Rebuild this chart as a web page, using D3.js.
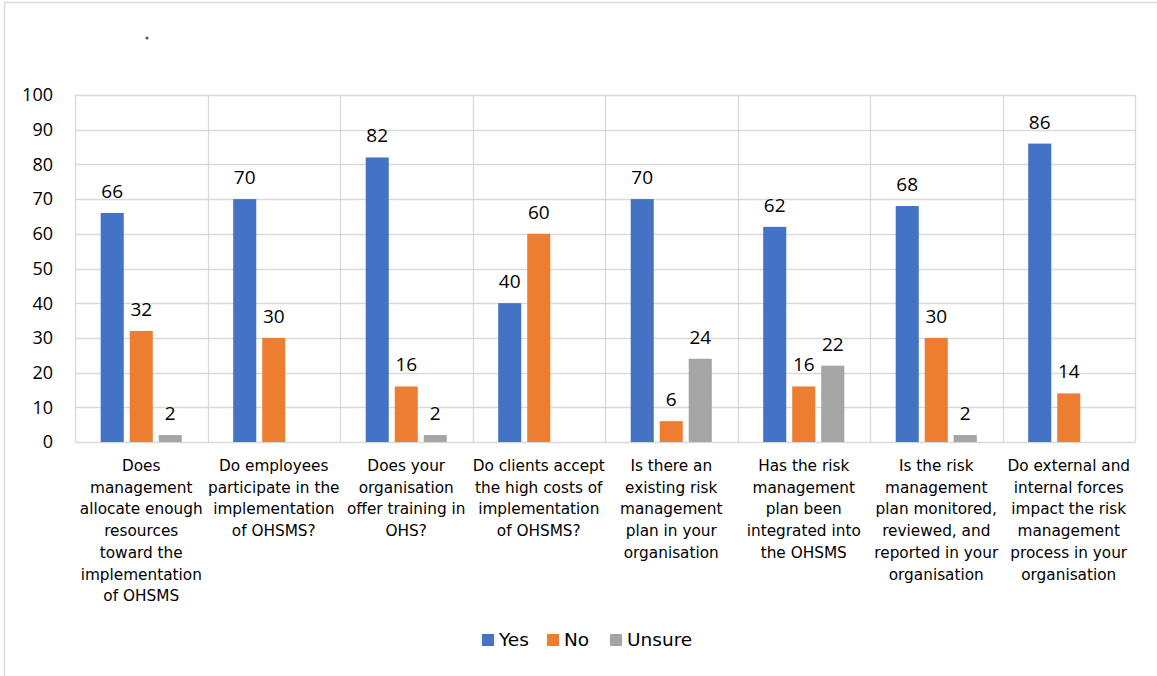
<!DOCTYPE html>
<html>
<head>
<meta charset="utf-8">
<script src="https://cdn.jsdelivr.net/npm/d3@7"></script>
<style>
  html, body { margin: 0; padding: 0; background: #fff; }
  svg { display: block; }
</style>
</head>
<body>
<svg id="chart" width="1157" height="676"></svg>
<script>
// Survey responses (%) per question
const categories = [
  ["Does", "management", "allocate enough", "resources", "toward the", "implementation", "of OHSMS"],
  ["Do employees", "participate in the", "implementation", "of OHSMS?"],
  ["Does your", "organisation", "offer training in", "OHS?"],
  ["Do clients accept", "the high costs of", "implementation", "of OHSMS?"],
  ["Is there an", "existing risk", "management", "plan in your", "organisation"],
  ["Has the risk", "management", "plan been", "integrated into", "the OHSMS"],
  ["Is the risk", "management", "plan monitored,", "reviewed, and", "reported in your", "organisation"],
  ["Do external and", "internal forces", "impact the risk", "management", "process in your", "organisation"]
];
const seriesNames = ["Yes", "No", "Unsure"];
const yesValues    = [66, 70, 82, 40, 70, 62, 68, 86];
const noValues     = [32, 30, 16, 60, 6, 16, 30, 14];
const unsureValues = [2, null, 2, null, 24, 22, 2, null];
const yTicks = [0, 10, 20, 30, 40, 50, 60, 70, 80, 90, 100];

const colors = ["#4472C4", "#ED7D31", "#A5A5A5"];
const seriesValues = [yesValues, noValues, unsureValues];

const svg = d3.select("#chart");
const labelFont = "DejaVu Sans, Verdana, sans-serif";
const numFont = "Open Sans, Calibri, sans-serif";

// Outer chart frame
svg.append("rect")
  .attr("x", 4.5).attr("y", 2.5)
  .attr("width", 1170).attr("height", 700)
  .attr("fill", "#fff").attr("stroke", "#d9d9d9").attr("stroke-width", 1.5);

// Title placeholder (a single dot)
svg.append("circle").attr("cx", 147).attr("cy", 38).attr("r", 1.6).attr("fill", "#595959");

const plot = { left: 75, right: 1135, top: 95, bottom: 442 };

const x = d3.scaleBand()
  .domain(d3.range(categories.length))
  .range([plot.left, plot.right])
  .paddingInner(0).paddingOuter(0);

const y = d3.scaleLinear().domain([0, 100]).range([plot.bottom, plot.top]);

const barW = x.bandwidth() * 0.174;
const gap = x.bandwidth() * 0.045;
const groupW = barW * 3 + gap * 2;

// Horizontal gridlines
svg.append("g").selectAll("line").data(yTicks).join("line")
  .attr("x1", plot.left).attr("x2", plot.right)
  .attr("y1", d => Math.round(y(d)) + 0.5).attr("y2", d => Math.round(y(d)) + 0.5)
  .attr("stroke", "#d9d9d9").attr("stroke-width", 1.3);

// Vertical category separators
svg.append("g").selectAll("line").data(d3.range(categories.length + 1)).join("line")
  .attr("x1", i => Math.round(plot.left + i * x.bandwidth()) + 0.5)
  .attr("x2", i => Math.round(plot.left + i * x.bandwidth()) + 0.5)
  .attr("y1", plot.top).attr("y2", plot.bottom)
  .attr("stroke", "#d9d9d9").attr("stroke-width", 1.3);

// Y-axis tick labels
svg.append("g").selectAll("text").data(yTicks).join("text")
  .attr("x", 53).attr("y", d => y(d))
  .attr("dy", "0.35em")
  .attr("text-anchor", "end")
  .attr("font-family", numFont).attr("font-size", 18).attr("fill", "#000")
  .text(d => d);

// Bars and data labels
seriesValues.forEach((vals, s) => {
  const g = svg.append("g");
  const data = vals.map((v, i) => ({ v, i })).filter(d => d.v != null);
  const bx = d => x(d.i) + (x.bandwidth() - groupW) / 2 + s * (barW + gap);
  g.selectAll("rect").data(data).join("rect")
    .attr("x", bx)
    .attr("y", d => y(d.v))
    .attr("width", barW)
    .attr("height", d => y(0) - y(d.v))
    .attr("fill", colors[s]);
  g.selectAll("text").data(data).join("text")
    .attr("x", d => bx(d) + barW / 2)
    .attr("y", d => y(d.v) - 15)
    .attr("text-anchor", "middle")
    .attr("font-family", numFont).attr("font-size", 19).attr("fill", "#000")
    .text(d => d.v);
});

// Category labels
const catG = svg.append("g");
categories.forEach((lines, i) => {
  const t = catG.append("text")
    .attr("text-anchor", "middle")
    .attr("font-family", labelFont).attr("font-size", 15.3).attr("fill", "#000");
  lines.forEach((ln, k) => {
    t.append("tspan")
      .attr("x", x(i) + x.bandwidth() / 2)
      .attr("y", 471 + k * 21.7)
      .text(ln);
  });
});

// Legend
const legendItems = [
  { name: seriesNames[0], x: 482 },
  { name: seriesNames[1], x: 547 },
  { name: seriesNames[2], x: 610 }
];
const lg = svg.append("g");
legendItems.forEach((d, i) => {
  lg.append("rect").attr("x", d.x).attr("y", 634).attr("width", 12).attr("height", 12).attr("fill", colors[i]);
  lg.append("text").attr("x", d.x + 17).attr("y", 640).attr("dy", "0.35em")
    .attr("font-family", labelFont).attr("font-size", 18.5).attr("fill", "#000")
    .text(d.name);
});
</script>
</body>
</html>
